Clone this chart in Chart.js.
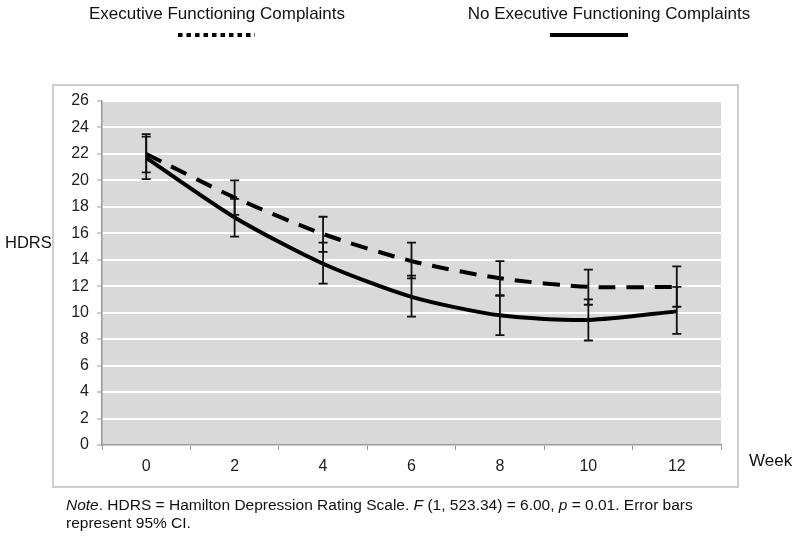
<!DOCTYPE html>
<html>
<head>
<meta charset="utf-8">
<script src="https://cdn.jsdelivr.net/npm/chart.js@4"></script>
<style>
  body { margin: 0; background: #fff; }
  canvas { display: block; }
</style>
</head>
<body>
<canvas id="myChart" width="800" height="538"></canvas>
<script>
const weeks = ["0", "2", "4", "6", "8", "10", "12"];
const yTicks = [0, 2, 4, 6, 8, 10, 12, 14, 16, 18, 20, 22, 24, 26];

// Executive Functioning Complaints (dashed)
const execMean = [22.0, 18.7, 15.95, 13.9, 12.6, 11.95, 11.95];
const execLow = [20.6, 17.4, 14.6, 12.6, 11.3, 10.6, 10.45];
const execHigh = [23.5, 20.0, 17.25, 15.3, 13.9, 13.25, 13.5];

// No Executive Functioning Complaints (solid)
const noneMean = [21.7, 17.2, 13.7, 11.2, 9.8, 9.45, 10.1];
const noneLow = [20.1, 15.75, 12.2, 9.7, 8.3, 7.9, 8.4];
const noneHigh = [23.3, 18.6, 15.3, 12.8, 11.3, 11.0, 11.95];

const legendExec = "Executive Functioning Complaints";
const legendNone = "No Executive Functioning Complaints";
const yTitle = "HDRS";
const xTitle = "Week";
const noteLine1 = [
  ["Note", true], [". HDRS = Hamilton Depression Rating Scale. ", false],
  ["F", true], [" (1, 523.34) = 6.00, ", false], ["p", true], [" = 0.01. Error bars", false]
];
const noteLine2 = "represent 95% CI.";

const FONT = '"Liberation Sans", Arial, sans-serif';

const errorBars = {
  id: "errorBars",
  afterDatasetsDraw(chart) {
    const ctx = chart.ctx;
    const xs = chart.scales.x, ys = chart.scales.y;
    chart.data.datasets.forEach(ds => {
      ctx.save();
      ctx.strokeStyle = "#111";
      ctx.lineWidth = 1.8;
      ds.low.forEach((lo, i) => {
        const x = xs.getPixelForValue(i);
        const y1 = ys.getPixelForValue(lo);
        const y2 = ys.getPixelForValue(ds.high[i]);
        ctx.beginPath();
        ctx.moveTo(x, y1); ctx.lineTo(x, y2);
        ctx.moveTo(x - 4.5, y1); ctx.lineTo(x + 4.5, y1);
        ctx.moveTo(x - 4.5, y2); ctx.lineTo(x + 4.5, y2);
        ctx.stroke();
      });
      ctx.restore();
    });
  }
};

const decor = {
  id: "decor",
  beforeDraw(chart) {
    const ctx = chart.ctx;
    const a = chart.chartArea;
    ctx.save();
    ctx.fillStyle = "#fff";
    ctx.fillRect(0, 0, chart.width, chart.height);
    ctx.strokeStyle = "#bdbdbd";
    ctx.lineWidth = 1.5;
    ctx.strokeRect(53, 85, 685, 402);
    ctx.fillStyle = "#d9d9d9";
    ctx.fillRect(a.left, a.top, a.right - a.left, a.bottom - a.top);
    ctx.restore();
  },
  afterDraw(chart) {
    const ctx = chart.ctx;
    ctx.save();
    ctx.fillStyle = "#111";
    ctx.textBaseline = "middle";
    ctx.textAlign = "center";
    ctx.font = "17px " + FONT;
    ctx.fillText(legendExec, 217, 14);
    ctx.fillText(legendNone, 609, 14);

    ctx.strokeStyle = "#000";
    ctx.lineWidth = 4;
    ctx.setLineDash([4.5, 4]);
    ctx.beginPath(); ctx.moveTo(178, 35); ctx.lineTo(255, 35); ctx.stroke();
    ctx.setLineDash([]);
    ctx.beginPath(); ctx.moveTo(550, 35); ctx.lineTo(628, 35); ctx.stroke();

    ctx.textAlign = "left";
    ctx.font = "16.5px " + FONT;
    ctx.fillText(yTitle, 5, 243);
    ctx.font = "17px " + FONT;
    ctx.fillText(xTitle, 749, 461);

    let x = 66;
    noteLine1.forEach(([t, it]) => {
      ctx.font = (it ? "italic " : "") + "15.5px " + FONT;
      ctx.fillText(t, x, 506);
      x += ctx.measureText(t).width;
    });
    ctx.font = "15.5px " + FONT;
    ctx.fillText(noteLine2, 66, 524);
    ctx.restore();
  }
};

const ctx = document.getElementById("myChart");

new Chart(ctx, {
  type: "line",
  data: {
    labels: weeks,
    datasets: [
      {
        label: legendExec,
        data: execMean,
        low: execLow,
        high: execHigh,
        borderColor: "#000",
        borderWidth: 4,
        borderDash: [17, 11],
        pointRadius: 0,
        tension: 0.25,
      },
      {
        label: legendNone,
        data: noneMean,
        low: noneLow,
        high: noneHigh,
        borderColor: "#000",
        borderWidth: 4,
        pointRadius: 0,
        tension: 0.25,
      },
    ],
  },
  options: {
    responsive: false,
    animation: false,
    layout: { padding: { top: 101, right: 79, bottom: 63, left: 0 } },
    plugins: { legend: { display: false }, tooltip: { enabled: false } },
    scales: {
      x: {
        offset: true,
        afterFit(s) { s.height = 30; },
        grid: {
          offset: true,
          drawOnChartArea: false,
          drawTicks: true,
          tickLength: 5,
          tickColor: "#999",
        },
        border: { color: "#999", width: 1.5 },
        ticks: { color: "#222", font: { size: 16, family: FONT }, padding: 7 },
      },
      y: {
        min: 0,
        max: 26,
        afterFit(s) { s.width = 102; },
        afterBuildTicks(s) { s.ticks = yTicks.map(v => ({ value: v })); },
        grid: {
          color: "#fff",
          lineWidth: 2,
          tickLength: 5,
          tickColor: "#999",
          tickWidth: 1,
        },
        border: { color: "#999", width: 1.5 },
        ticks: { color: "#222", font: { size: 16, family: FONT }, padding: 8 },
      },
    },
  },
  plugins: [decor, errorBars],
});
</script>
</body>
</html>
